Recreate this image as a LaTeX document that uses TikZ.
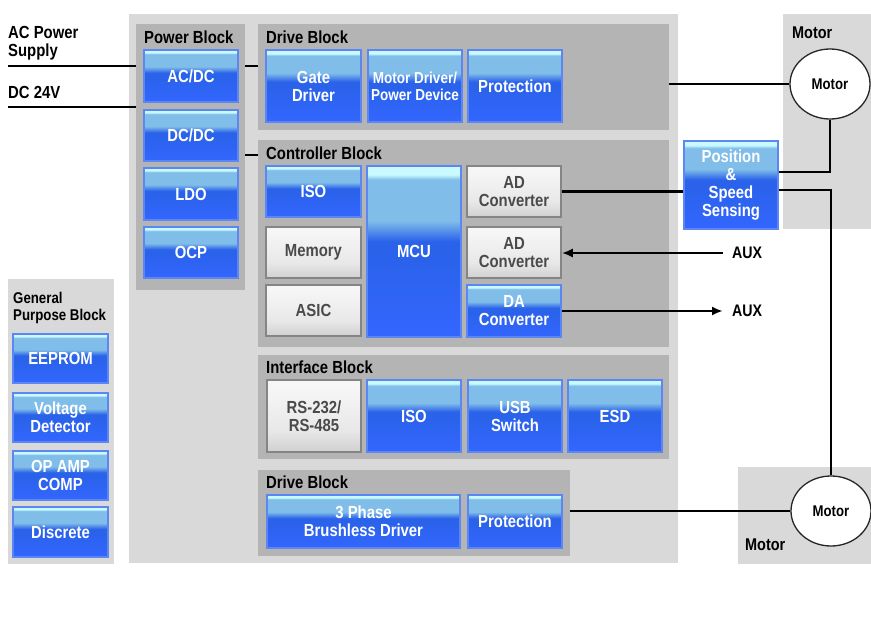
\documentclass[tikz,border=0pt]{standalone}
\usepackage{fontspec}
\newfontfamily\lab[FakeStretch=0.85]{Liberation Sans}
\usetikzlibrary{shapes.geometric,arrows.meta}
\definecolor{bTop}{HTML}{C8FAFF}
\definecolor{bLight}{HTML}{80BDE8}
\definecolor{bDark}{HTML}{2A62EA}
\definecolor{bBot}{HTML}{3366FF}
\definecolor{bBorder}{HTML}{5C86F2}
\definecolor{gTop}{HTML}{F6F6F6}
\definecolor{gMid}{HTML}{E8E8E8}
\definecolor{gBot}{HTML}{D0D0D0}
\definecolor{gBorder}{HTML}{858585}
\definecolor{gText}{HTML}{4A4A4A}
\definecolor{panelLight}{HTML}{D9D9D9}
\definecolor{panelDark}{HTML}{B4B4B4}
\pgfdeclareverticalshading{blueshade}{100bp}{color(0bp)=(bBot); color(25bp)=(bBot); color(50bp)=(bDark); color(53bp)=(bDark); color(59bp)=(bLight); color(71bp)=(bLight); color(72.5bp)=(bTop); color(75bp)=(bTop); color(100bp)=(bTop)}
\pgfdeclareverticalshading{grayshade}{100bp}{color(0bp)=(gBot); color(25bp)=(gBot); color(40bp)=(gMid); color(70bp)=(gTop); color(75bp)=(gTop); color(100bp)=(gTop)}
\tikzset{
  every node/.style={font=\lab\bfseries\fontsize{17.5}{18}\selectfont},
  sz/.style 2 args={minimum width=#1pt, minimum height=#2pt},
  box/.style={rectangle, inner sep=0pt, align=center},
  bluebox/.style={box, shading=blueshade, draw=bBorder, line width=1.2pt, text=white},
  graybox/.style={box, shading=grayshade, draw=gBorder, line width=1.5pt, text=gText},
  panelL/.style={rectangle, inner sep=0pt, fill=panelLight},
  panelD/.style={rectangle, inner sep=0pt, fill=panelDark},
  title/.style={anchor=west, inner sep=0pt, text=black},
  motor/.style={ellipse, inner sep=0pt, minimum width=80pt, minimum height=70pt, fill=white, draw=black!85, line width=1.3pt, font=\lab\bfseries\fontsize{15.5}{17}\selectfont},
  conn/.style={line width=2.8pt, black},
  arr/.style={conn, -{Latex[length=11pt,width=9pt]}},
}
\begin{document}
\begin{tikzpicture}[x=1pt,y=-1pt]
\useasboundingbox (0,0) rectangle (871,619);
\fill[white] (0,0) rectangle (871,619);

% panels
\node[panelL, sz={549}{549}] (main) at (403.5,288.5) {};
\node[panelD, sz={109}{266}] (pwr) at (190.5,157) {};
\node[panelD, sz={411}{106}] (drv1) at (463.5,77) {};
\node[panelD, sz={411}{207}] (ctl) at (463.5,243.5) {};
\node[panelD, sz={411}{104}] (ifc) at (463.5,407) {};
\node[panelD, sz={312}{86}] (drv2) at (414,513) {};
\node[panelL, sz={106}{285}] (gen) at (61,421.5) {};
\node[panelL, sz={88}{215}] (mot1) at (827,121.5) {};
\node[panelL, sz={133}{97}] (mot2) at (804.5,515.5) {};

% titles
\node[title] (tpwr) at (144,37) {Power Block};
\node[title] (tdrv1) at (266,37) {Drive Block};
\node[title] (tctl) at (266,153) {Controller Block};
\node[title] (tifc) at (266,367) {Interface Block};
\node[title] (tdrv2) at (266,482) {Drive Block};
\node[title, anchor=north west, align=left, font=\lab\bfseries\fontsize{15.6}{17}\selectfont] (tgen) at (13,292) {General\\Purpose Block};
\node[title, font=\lab\bfseries\fontsize{17}{18}\selectfont] (tmot1) at (792,33) {Motor};
\node[title, font=\lab\bfseries\fontsize{17}{18}\selectfont] (tmot2) at (745,545) {Motor};
\node[title, anchor=north west, align=left] (tac) at (8,26) {AC Power\\Supply};
\node[title] (tdc) at (8,92) {DC 24V};

% power block
\node[bluebox, sz={94}{52}] (acdc) at (191,76) {AC/DC};
\node[bluebox, sz={94}{51}] (dcdc) at (191,135.5) {DC/DC};
\node[bluebox, sz={94}{52}] (ldo) at (191,194) {LDO};
\node[bluebox, sz={94}{51}] (ocp) at (191,252.5) {OCP};

% drive block top
\node[bluebox, sz={95}{72}] (gate) at (313.5,86) {Gate\\Driver};
\node[bluebox, sz={94}{72}, font=\lab\bfseries\fontsize{15.9}{17}\selectfont] (mdrv) at (415,86) {Motor Driver/\\Power Device};
\node[bluebox, sz={94}{72}] (prot1) at (515,86) {Protection};

% controller block
\node[bluebox, sz={95}{51}] (iso1) at (313.5,191.5) {ISO};
\node[graybox, sz={95}{51}] (mem) at (313.5,252.5) {Memory};
\node[graybox, sz={95}{51}] (asic) at (313.5,310.5) {ASIC};
\node[bluebox, sz={94}{171}] (mcu) at (414,251.5) {MCU};
\node[graybox, sz={94}{51}] (ad1) at (514,191.5) {AD\\Converter};
\node[graybox, sz={94}{51}] (ad2) at (514,252.5) {AD\\Converter};
\node[bluebox, sz={94}{52}] (da) at (514,311) {DA\\Converter};

% interface block
\node[graybox, sz={94}{72}] (rs) at (314,416) {RS-232/\\RS-485};
\node[bluebox, sz={94}{72}] (iso2) at (414,416) {ISO};
\node[bluebox, sz={94}{72}] (usb) at (515,416) {USB\\Switch};
\node[bluebox, sz={94}{72}] (esd) at (615,416) {ESD};

% drive block bottom
\node[bluebox, sz={193}{53}] (bldc) at (363.5,521.5) {3 Phase\\Brushless Driver};
\node[bluebox, sz={94}{53}] (prot2) at (515,521.5) {Protection};

% general purpose block
\node[bluebox, sz={95}{49}] (eeprom) at (60.5,358.5) {EEPROM};
\node[bluebox, sz={95}{49}] (vdet) at (60.5,417.5) {Voltage\\Detector};
\node[bluebox, sz={95}{49}] (opamp) at (60.5,475.5) {OP AMP\\COMP};
\node[bluebox, sz={95}{50}] (disc) at (60.5,532) {Discrete};

% sensing and motors
\node[bluebox, sz={94}{88}] (sense) at (731,185) {Position\\\&\\Speed\\Sensing};
\node[motor] (m1) at (830,84) {Motor};
\node[motor] (m2) at (831,511) {Motor};

% AUX labels
\node[title, inner xsep=9pt, font=\lab\bfseries\fontsize{16.7}{18}\selectfont] (aux1) at (723,253) {AUX};
\node[title, inner xsep=9pt, font=\lab\bfseries\fontsize{16.7}{18}\selectfont] (aux2) at (723,311) {AUX};

% connectors
\coordinate (acin) at (8,66);
\coordinate (dcin) at (8,107);
\coordinate (cst) at (245,155);
\draw[conn] (acin) -- (acin -| pwr.west);
\draw[conn] (dcin) -- (dcin -| pwr.west);
\draw[conn] (acin -| pwr.east) -- (acin -| drv1.west);
\draw[conn] (cst -| pwr.east) -- (cst -| ctl.west);
\draw[conn] (m1.west -| drv1.east) -- (m1.west);
\draw[conn] (m1.south) |- ([yshift=13pt]sense.east);
\draw[conn] (ad1.east) -- (ad1.east -| sense.west);
\draw[conn] ([yshift=-5pt]sense.east) -| (m2.north);
\draw[conn] (m2.west -| drv2.east) -- (m2.west);
\draw[arr] (aux1.west) -- (aux1.west -| ad2.east);
\draw[arr] (aux2.west -| da.east) -- (aux2.west);
\end{tikzpicture}
\end{document}
